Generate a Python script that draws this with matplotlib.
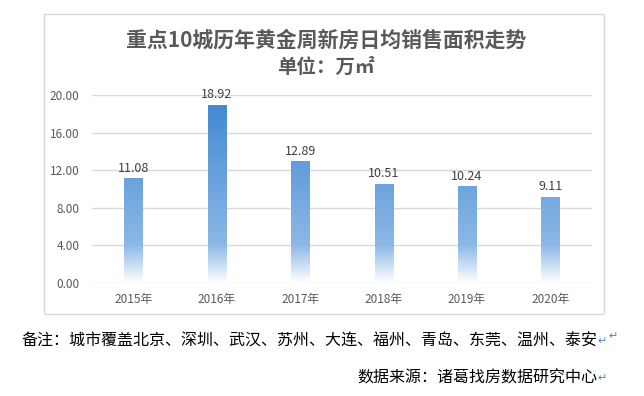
import numpy as np
import matplotlib
matplotlib.use('Agg')
import matplotlib.pyplot as plt
from matplotlib.colors import LinearSegmentedColormap
from matplotlib.patches import Rectangle

plt.rcParams['font.family'] = ['Noto Sans CJK SC', 'DejaVu Sans']

years = ['2015年', '2016年', '2017年', '2018年', '2019年', '2020年']
values = [11.08, 18.92, 12.89, 10.51, 10.24, 9.11]
yticks = [0, 4, 8, 12, 16, 20]
title = '重点10城历年黄金周新房日均销售面积走势'
unit = '单位：万㎡'
note = '备注：城市覆盖北京、深圳、武汉、苏州、大连、福州、青岛、东莞、温州、泰安'
source = '数据来源：诸葛找房数据研究中心'

fig = plt.figure(figsize=(6.44, 3.96), dpi=100)
# chart frame
fig.patches.append(Rectangle((44/644, 1-314/396), 560/644, 300/396, transform=fig.transFigure,
                             fill=False, edgecolor='#d9d9d9', lw=1))

ax = fig.add_axes([92/644, 1-283/396, 500/644, 188/396])

cmap = LinearSegmentedColormap.from_list('bar', [(0, '#ffffff'), (0.07, '#d6e6f7'),
                                                 (0.2, '#8cb8e6'), (1, '#3f86d1')])
w = 0.22
for i, v in enumerate(values):
    grad = np.linspace(0, v, 200).reshape(-1, 1)
    ax.imshow(grad, cmap=cmap, vmin=0, vmax=20, origin='lower', aspect='auto',
              extent=[i-w/2, i+w/2, 0, v], zorder=2)
    ax.text(i, v+0.45, f'{v:.2f}', ha='center', va='bottom', fontsize=9, color='#404040')

ax.set_xlim(-0.5, len(years)-0.5)
ax.set_ylim(0, 20)
ax.set_yticks(yticks)
ax.set_yticklabels([f'{t:.2f}' for t in yticks], fontsize=8.5, color='#595959')
ax.set_xticks(range(len(years)))
ax.set_xticklabels(years, fontsize=8.5, color='#595959')
ax.tick_params(length=0, pad=9, axis='y')
ax.tick_params(length=0, pad=7, axis='x')
ax.grid(axis='y', color='#d9d9d9', lw=1, zorder=0)
for s in ax.spines.values():
    s.set_visible(False)

fig.text(326/644, 1-40/396, title, ha='center', va='center', fontsize=15, color='#595959', fontweight='bold')
fig.text(326/644, 1-67/396, unit, ha='center', va='center', fontsize=14, color='#595959', fontweight='bold')

arrow = dict(ha='left', va='center', fontsize=8, color='#4a86c8', family=['DejaVu Sans'])
fig.text(608/644, 1-336/396, '↵', **arrow)
fig.text(597/644, 1-341/396, note, ha='right', va='center', fontsize=11.5, color='#000000')
fig.text(597/644, 1-378/396, source, ha='right', va='center', fontsize=11.5, color='#000000')
fig.text(597/644, 1-341/396, '↵', **arrow)
fig.text(597/644, 1-378/396, '↵', **arrow)

fig.savefig('out.png', dpi=100)
